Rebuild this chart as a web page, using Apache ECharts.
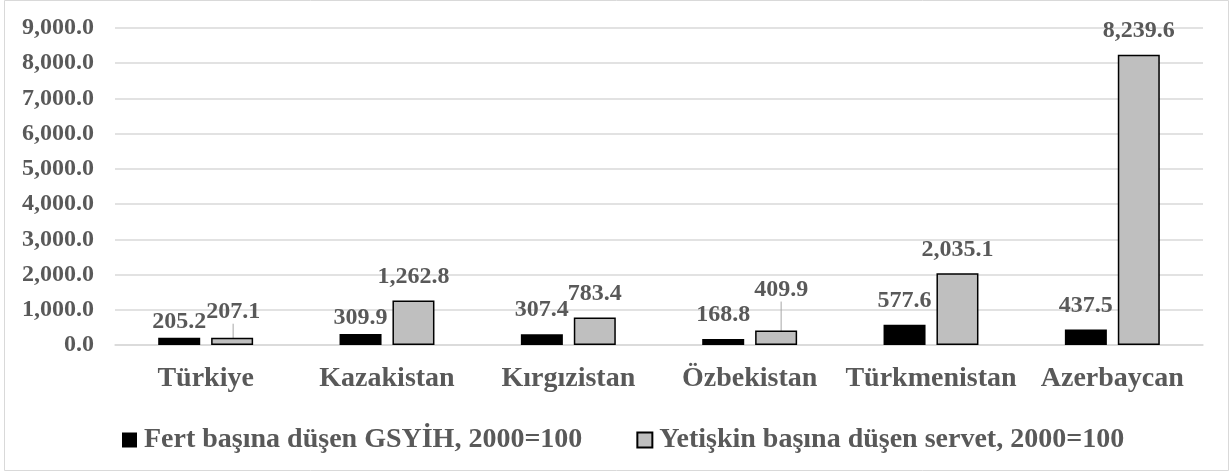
<!DOCTYPE html>
<html>
	<head>
		<meta charset="UTF-8">
		<title></title>
		<script src="https://cdn.jsdelivr.net/npm/echarts@6/dist/echarts.min.js" type="text/javascript" charset="utf-8"></script>
	</head>
	<body style="margin:0;background:#fff;">
		<div id="chart" style="width:1231px;height:472px;"></div>
		<script type="text/javascript">
			var countries = ['Türkiye', 'Kazakistan', 'Kırgızistan', 'Özbekistan', 'Türkmenistan', 'Azerbaycan'];
			var gdpName = 'Fert başına düşen GSYİH, 2000=100';
			var wealthName = 'Yetişkin başına düşen servet, 2000=100';
			var gdpValues = [205.2, 309.9, 307.4, 168.8, 577.6, 437.5];
			var wealthValues = [207.1, 1262.8, 783.4, 409.9, 2035.1, 8239.6];
			var yTicks = [0, 1000, 2000, 3000, 4000, 5000, 6000, 7000, 8000, 9000];

			// label nudges (Excel moved a few by hand), leader lines on two of them
			var gdpShift = [[0, 8], [0, 8], [0, 0], [0, 0], [0, 0], [0, 0]];
			var wealthShift = [[1, -2], [0, 0], [0, 0], [5, -17], [0, 0], [0, 0]];
			var leader = [true, false, false, true, false, false];

			var font = '"Liberation Serif", "Times New Roman", serif';
			var txt = '#595959';

			function fmt(v) {
				return Number(v).toLocaleString('en-US', {minimumFractionDigits: 1, maximumFractionDigits: 1});
			}

			var chart = echarts.init(document.getElementById('chart'));
			var option = {
				backgroundColor: '#fff',
				animation: false,
				graphic: [{
					type: 'rect',
					shape: {x: 4.5, y: 0.5, width: 1224, height: 470},
					style: {fill: 'none', stroke: '#d9d9d9', lineWidth: 1}
				}],
				grid: {left: 115, right: 28, top: 28, bottom: 127},
				legend: {
					top: 421,
					left: 117,
					itemWidth: 15,
					itemHeight: 15,
					itemGap: 54,
					icon: 'rect',
					textStyle: {fontFamily: font, fontWeight: 'bold', fontSize: 28, color: txt, padding: [0, 0, 0, 2]},
					data: [gdpName, wealthName]
				},
				xAxis: {
					type: 'category',
					data: countries,
					axisTick: {show: false},
					axisLine: {lineStyle: {color: '#d9d9d9', width: 1.5}},
					axisLabel: {fontFamily: font, fontWeight: 'bold', fontSize: 28, color: txt, margin: 20, interval: 0}
				},
				yAxis: {
					type: 'value',
					min: yTicks[0],
					max: yTicks[yTicks.length - 1],
					interval: 1000,
					axisLine: {show: false},
					axisTick: {show: false},
					splitLine: {lineStyle: {color: '#d9d9d9', width: 1.5}},
					axisLabel: {fontFamily: font, fontWeight: 'bold', fontSize: 24, color: txt, margin: 21, formatter: fmt}
				},
				series: [{
					name: gdpName,
					type: 'bar',
					barWidth: 42,
					barGap: '26%',
					itemStyle: {color: '#000'},
					label: {
						show: true, position: 'top', distance: 12,
						fontFamily: font, fontWeight: 'bold', fontSize: 24, color: txt,
						formatter: function (p) { return fmt(p.value); }
					},
					labelLayout: function (p) {
						return {dx: gdpShift[p.dataIndex][0], dy: gdpShift[p.dataIndex][1]};
					},
					data: gdpValues
				}, {
					name: wealthName,
					type: 'bar',
					barWidth: 42,
					itemStyle: {color: '#bfbfbf', borderColor: '#000', borderWidth: 1.5},
					label: {
						show: true, position: 'top', distance: 12,
						fontFamily: font, fontWeight: 'bold', fontSize: 24, color: txt,
						formatter: function (p) { return fmt(p.value); }
					},
					labelLine: {show: false, lineStyle: {color: '#a6a6a6', width: 1}},
					labelLayout: function (p) {
						return {dx: wealthShift[p.dataIndex][0], dy: wealthShift[p.dataIndex][1]};
					},
					data: wealthValues.map(function (v, i) {
						return leader[i] ? {value: v, labelLine: {show: true, lineStyle: {color: '#a6a6a6', width: 1}}} : v;
					})
				}]
			};
			chart.setOption(option);
		</script>
	</body>
</html>
